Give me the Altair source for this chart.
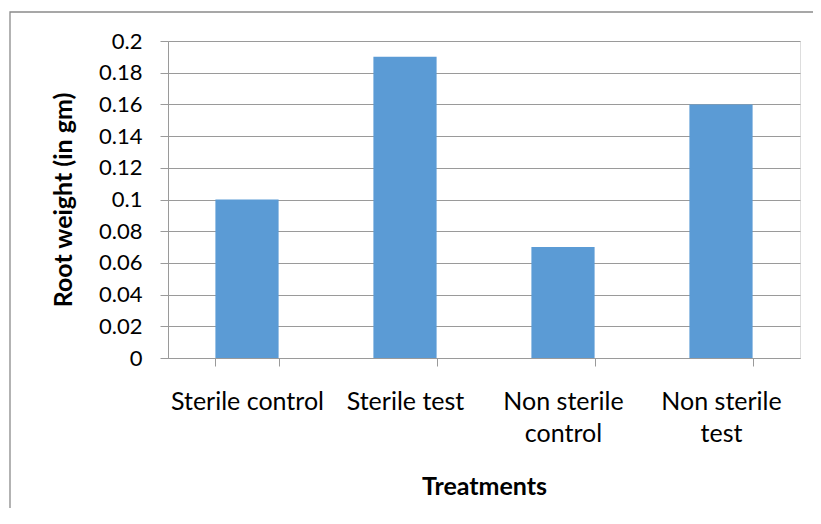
import altair as alt
import pandas as pd

categories = ["Sterile control", "Sterile test", "Non sterile control", "Non sterile test"]
root_weight = [0.10, 0.19, 0.07, 0.16]
y_ticks = [0, 0.02, 0.04, 0.06, 0.08, 0.10, 0.12, 0.14, 0.16, 0.18, 0.20]

df = pd.DataFrame({"Treatment": categories, "Weight": root_weight})

FONT = "Lato"
GRID = "#9a9a9a"

label_expr = ("indexof(datum.label, 'Non ') == 0 ? "
              "[slice(datum.label, 0, 11), slice(datum.label, 12)] : datum.label")

bars = alt.Chart(df).mark_bar(color="#5B9BD5").encode(
    x=alt.X("Treatment:N", sort=categories,
            scale=alt.Scale(paddingInner=0.6, paddingOuter=0.3),
            axis=alt.Axis(title="Treatments", labelAngle=0, labelExpr=label_expr,
                          tickBand="extent", tickSize=8, tickColor=GRID,
                          domainColor=GRID, labelPadding=23, labelBaseline="top",
                          labelLineHeight=32, labelFontSize=25, labelFont=FONT,
                          labelColor="#000000", labelLimit=300,
                          titleFont=FONT, titleFontSize=25, titleFontWeight="bold",
                          titleColor="#000000", titleX=316, titleY=136,
                          titleBaseline="alphabetic", titleAlign="center", grid=False)),
    y=alt.Y("Weight:Q", scale=alt.Scale(domain=[0, 0.2], nice=False),
            axis=alt.Axis(title="Root weight (in gm)", values=y_ticks, format="~g",
                          tickSize=8, tickColor=GRID, domainColor=GRID,
                          gridColor=GRID, grid=True, labelPadding=18,
                          labelFontSize=22, labelFont=FONT, labelColor="#000000",
                          titleFont=FONT, titleFontSize=25, titleFontWeight="bold",
                          titleColor="#000000", titleAngle=270, titleX=-105,
                          titleY=158.5, titleBaseline="middle", titleAlign="center")),
)

frame = alt.Chart(pd.DataFrame({"a": [0]})).mark_rect(
    filled=False, stroke="#8a8a8a", strokeWidth=1.3
).encode(
    x=alt.value(-158), x2=alt.value(700), y=alt.value(-29), y2=alt.value(600)
)

chart = alt.layer(frame, bars).properties(
    width=632, height=317,
    autosize=alt.AutoSizeParams(type="none"),
    padding={"left": 160, "top": 33, "right": 13, "bottom": 150},
).configure_view(stroke=None).configure(background="#ffffff")

chart.save("out.html", embed_options={"renderer": "svg", "actions": False})
